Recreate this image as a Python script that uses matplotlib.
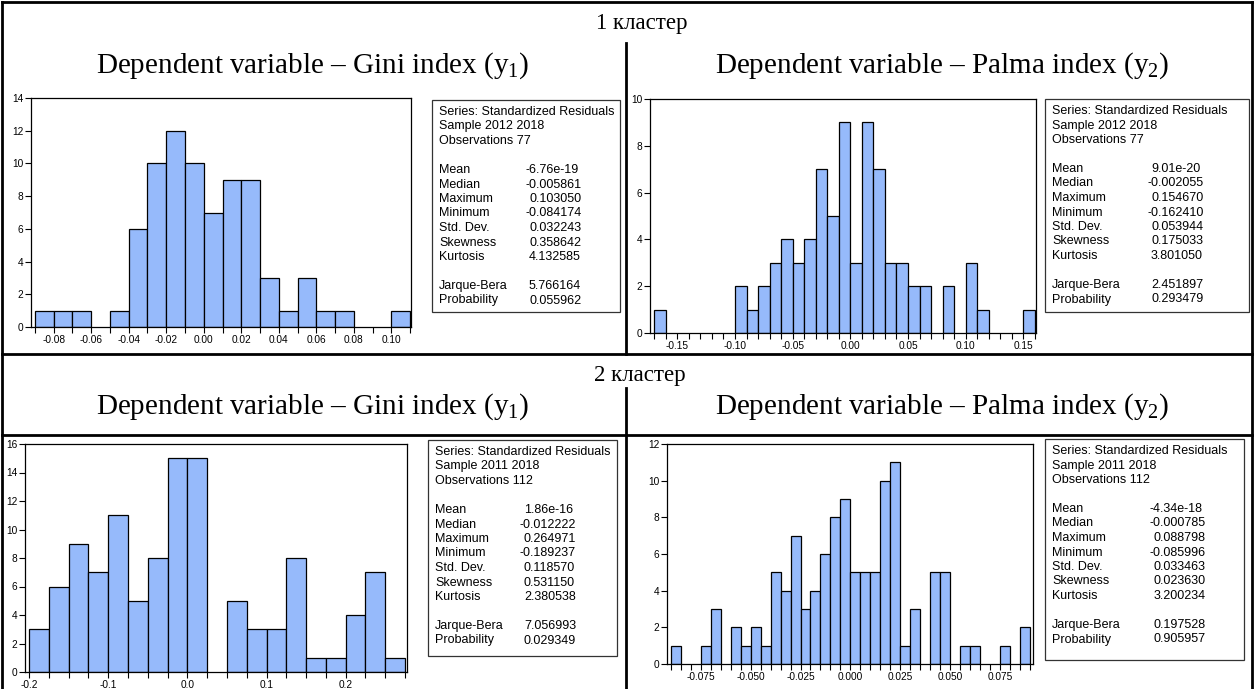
import numpy as np
import matplotlib.pyplot as plt
from matplotlib.patches import Rectangle

plt.rcParams['font.family'] = 'Liberation Sans'
plt.rcParams['mathtext.fontset'] = 'custom'
plt.rcParams['mathtext.rm'] = 'Liberation Serif'

# 1 кластер, Gini index (y1)
g1_start, g1_bin = -0.09, 0.01
g1_counts = [1, 1, 1, 0, 1, 6, 10, 12, 10, 7, 9, 9, 3, 1, 3, 1, 1, 0, 0, 1]
g1_xticks = [-0.08, -0.06, -0.04, -0.02, 0.00, 0.02, 0.04, 0.06, 0.08, 0.10]
g1_stats = ['-6.76e-19', '-0.005861', '0.103050', '-0.084174', '0.032243',
            '0.358642', '4.132585', '5.766164', '0.055962']

# 1 кластер, Palma index (y2)
p1_start, p1_bin = -0.17, 0.01
p1_counts = [1, 0, 0, 0, 0, 0, 0, 2, 1, 2, 3, 4, 3, 4, 7, 5, 9, 3, 9, 7,
             3, 3, 2, 2, 0, 2, 0, 3, 1, 0, 0, 0, 1]
p1_xticks = [-0.15, -0.10, -0.05, 0.00, 0.05, 0.10, 0.15]
p1_stats = ['9.01e-20', '-0.002055', '0.154670', '-0.162410', '0.053944',
            '0.175033', '3.801050', '2.451897', '0.293479']

# 2 кластер, Gini index (y1)
g2_start, g2_bin = -0.2, 0.025
g2_counts = [3, 6, 9, 7, 11, 5, 8, 15, 15, 0, 5, 3, 3, 8, 1, 1, 4, 7, 1]
g2_xticks = [-0.2, -0.1, 0.0, 0.1, 0.2]
g2_stats = ['1.86e-16', '-0.012222', '0.264971', '-0.189237', '0.118570',
            '0.531150', '2.380538', '7.056993', '0.029349']

# 2 кластер, Palma index (y2)
p2_start, p2_bin = -0.09, 0.005
p2_counts = [1, 0, 0, 1, 3, 0, 2, 1, 2, 1, 5, 4, 7, 3, 4, 6, 8, 9, 5, 5,
             5, 10, 11, 1, 3, 0, 5, 5, 0, 1, 1, 0, 0, 1, 0, 2]
p2_xticks = [-0.075, -0.050, -0.025, 0.000, 0.025, 0.050, 0.075]
p2_stats = ['-4.34e-18', '-0.000785', '0.088798', '-0.085996', '0.033463',
            '0.023630', '3.200234', '0.197528', '0.905957']

stat_names = ['Mean', 'Median', 'Maximum', 'Minimum', 'Std. Dev.',
              'Skewness', 'Kurtosis', 'Jarque-Bera', 'Probability']

W, H = 1254, 689
BAR = '#96BAFB'

fig = plt.figure(figsize=(W / 100, H / 100), dpi=100)

# таблица-подложка в пикселях
ax0 = fig.add_axes([0, 0, 1, 1])
ax0.set_xlim(0, W)
ax0.set_ylim(H, 0)
ax0.axis('off')

lw = 2
ax0.plot([2, 2], [2, 689], color='k', lw=lw)
ax0.plot([1252, 1252], [2, 689], color='k', lw=lw)
ax0.plot([2, 1252], [2, 2], color='k', lw=lw)
ax0.plot([2, 1252], [354, 354], color='k', lw=lw)
ax0.plot([2, 1252], [435, 435], color='k', lw=lw)
ax0.plot([626, 626], [43, 354], color='k', lw=lw)
ax0.plot([626, 626], [388, 689], color='k', lw=lw)

serif = 'Liberation Serif'
ax0.text(642, 23, '1 кластер', family=serif, fontsize=16.5, ha='center', va='center')
ax0.text(640, 376, '2 кластер', family=serif, fontsize=16.5, ha='center', va='center')
for y in (66, 407):
    ax0.text(313, y, 'Dependent variable – Gini index (y$_1$)', family=serif,
             fontsize=21, ha='center', va='center')
    ax0.text(942, y, 'Dependent variable – Palma index (y$_2$)', family=serif,
             fontsize=21, ha='center', va='center')


def stats_box(l, t, r, b, sample, obs, values, vx, step=14.5):
    ax0.add_patch(Rectangle((l, t), r - l, b - t, fill=False, ec='#333333', lw=0.9))
    x = l + 7
    y = t + 12
    head = ['Series: Standardized Residuals', 'Sample ' + sample, 'Observations ' + obs]
    for i, s in enumerate(head):
        ax0.text(x, y + i * step, s, fontsize=9, va='center')
    rows = list(range(4, 11)) + [12, 13]
    for name, val, k in zip(stat_names, values, rows):
        ax0.text(x, y + k * step, name, fontsize=9, va='center')
        dx = 0 if val.startswith('-') else 4
        ax0.text(vx + dx, y + k * step, val, fontsize=9, va='center')


stats_box(432, 100, 620, 312, '2012 2018', '77', g1_stats, 525)
stats_box(1045, 99, 1249, 312, '2012 2018', '77', p1_stats, 1147)
stats_box(428, 440, 617, 656, '2011 2018', '112', g2_stats, 520)
stats_box(1045, 439, 1244, 660, '2011 2018', '112', p2_stats, 1150)


def draw_hist(rect, start, width, counts, ymax, xlim, xticks, fmt):
    l, t, r, b = rect
    ax = fig.add_axes([l / W, 1 - b / H, (r - l) / W, (b - t) / H])
    counts = np.array(counts)
    edges = start + width * np.arange(len(counts))
    keep = counts > 0
    ax.bar(edges[keep], counts[keep], width=width, align='edge',
           color=BAR, edgecolor='black', linewidth=0.9)
    ax.set_xlim(xlim)
    ax.set_ylim(0, ymax)
    ax.set_yticks(np.arange(0, ymax + 1, 2))
    ax.set_xticks(xticks)
    ax.set_xticklabels([fmt % v for v in xticks])
    ax.set_xticks(np.round(start + width * np.arange(len(counts) + 1), 4), minor=True)
    ax.tick_params(axis='both', which='both', direction='out', length=4,
                   width=0.8, labelsize=7.3, pad=1.5)
    for s in ax.spines.values():
        s.set_linewidth(0.9)
    return ax


draw_hist((31, 98, 411, 327), g1_start, g1_bin, g1_counts, 14,
          (-0.0921, 0.1105), g1_xticks, '%.2f')
draw_hist((650, 99, 1036, 333), p1_start, p1_bin, p1_counts, 10,
          (-0.1737, 0.161), p1_xticks, '%.2f')
draw_hist((25, 444, 407, 672), g2_start, g2_bin, g2_counts, 16,
          (-0.2051, 0.2775), g2_xticks, '%.1f')
draw_hist((667, 444, 1033, 664), p2_start, p2_bin, p2_counts, 12,
          (-0.0919, 0.0915), p2_xticks, '%.3f')

fig.savefig('out.png', dpi=100)
